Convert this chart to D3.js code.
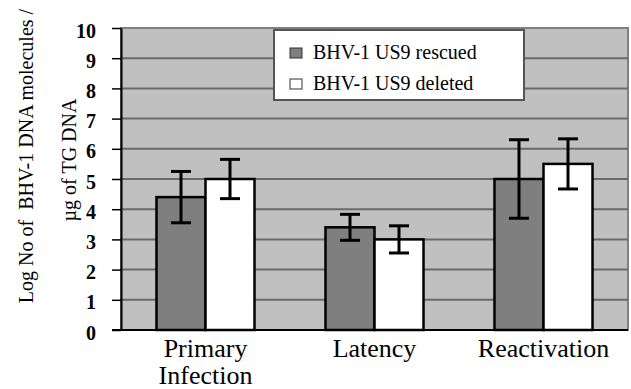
<!DOCTYPE html>
<html>
<head>
<meta charset="utf-8">
<script src="https://cdn.jsdelivr.net/npm/d3@7"></script>
<style>
  body { margin: 0; background: #fff; }
  svg text { font-family: "Liberation Serif", "DejaVu Serif", "Times New Roman", serif; white-space: pre; }
</style>
</head>
<body>
<div id="chart"></div>
<script>
const categories = ["Primary Infection", "Latency", "Reactivation"];
const series = ["BHV-1 US9 rescued", "BHV-1 US9 deleted"];
const rescued = [4.4, 3.4, 5.0];
const rescuedErr = [0.85, 0.43, 1.3];
const deleted = [5.0, 3.0, 5.5];
const deletedErr = [0.65, 0.45, 0.83];
const yTicks = [0, 1, 2, 3, 4, 5, 6, 7, 8, 9, 10];

const W = 631, H = 389;
const margin = { top: 28, right: 3, bottom: 59, left: 121 };
const width = W - margin.left - margin.right;
const height = H - margin.top - margin.bottom;

const svg = d3.select("#chart")
    .append("svg")
    .attr("width", W)
    .attr("height", H);

const g = svg.append("g")
    .attr("transform", `translate(${margin.left},${margin.top})`);

const x = d3.scaleBand()
    .domain(categories)
    .range([0, width])
    .paddingInner(0.42)
    .paddingOuter(0.21);

const x1 = d3.scaleBand()
    .domain(series)
    .range([0, x.bandwidth()]);

const y = d3.scaleLinear()
    .domain([0, 10])
    .range([height, 0]);

const colors = { "BHV-1 US9 rescued": "#7f7f7f", "BHV-1 US9 deleted": "#ffffff" };

// plot area
g.append("rect")
    .attr("width", width)
    .attr("height", height)
    .attr("fill", "#c0c0c0")
    .attr("stroke", "#808080")
    .attr("stroke-width", 2);

// gridlines
g.append("g")
    .selectAll("line")
    .data(yTicks.slice(1, -1))
    .enter()
    .append("line")
    .attr("x1", 0)
    .attr("x2", width)
    .attr("y1", d => y(d))
    .attr("y2", d => y(d))
    .attr("stroke", "#6a6a6a")
    .attr("stroke-width", 2);

// bars + error bars
const rows = [];
categories.forEach((c, i) => {
    rows.push({ cat: c, s: series[0], v: rescued[i], e: rescuedErr[i] });
    rows.push({ cat: c, s: series[1], v: deleted[i], e: deletedErr[i] });
});

g.selectAll(".bar")
    .data(rows)
    .enter()
    .append("rect")
    .attr("class", "bar")
    .attr("x", d => x(d.cat) + x1(d.s))
    .attr("y", d => y(d.v))
    .attr("width", x1.bandwidth())
    .attr("height", d => y(0) - y(d.v))
    .attr("fill", d => colors[d.s])
    .attr("stroke", "#000")
    .attr("stroke-width", 2.5);

const err = g.selectAll(".err")
    .data(rows)
    .enter()
    .append("g")
    .attr("class", "err")
    .attr("stroke", "#000")
    .attr("stroke-width", 3);

const cx = d => x(d.cat) + x1(d.s) + x1.bandwidth() / 2;
err.append("line")
    .attr("x1", cx).attr("x2", cx)
    .attr("y1", d => y(d.v + d.e)).attr("y2", d => y(d.v - d.e));
err.append("line")
    .attr("x1", d => cx(d) - 10).attr("x2", d => cx(d) + 10)
    .attr("y1", d => y(d.v + d.e)).attr("y2", d => y(d.v + d.e));
err.append("line")
    .attr("x1", d => cx(d) - 10).attr("x2", d => cx(d) + 10)
    .attr("y1", d => y(d.v - d.e)).attr("y2", d => y(d.v - d.e));

// y axis
const yAxis = g.append("g")
    .call(d3.axisLeft(y).tickValues(yTicks).tickSize(9).tickSizeOuter(0).tickPadding(16));
yAxis.attr("font-family", null);
yAxis.select(".domain").attr("stroke", "#000").attr("stroke-width", 2);
yAxis.selectAll(".tick line").attr("stroke", "#000").attr("stroke-width", 1.5);
yAxis.selectAll(".tick text")
    .attr("fill", "#000")
    .attr("dy", "0.45em")
    .style("font-size", "20px")
    .style("font-weight", "bold");

// x axis line
g.append("line")
    .attr("x1", -9).attr("x2", width)
    .attr("y1", height).attr("y2", height)
    .attr("stroke", "#000").attr("stroke-width", 2);

// x labels
const xl = g.append("g")
    .selectAll("text")
    .data(categories)
    .enter()
    .append("text")
    .attr("text-anchor", "middle")
    .attr("font-size", 26)
    .attr("fill", "#000")
    .attr("transform", d => `translate(${x(d) + x.bandwidth() / 2},${height + 27})`);
xl.each(function (d) {
    const parts = d === "Primary Infection" ? ["Primary", "Infection"] : [d];
    d3.select(this).selectAll("tspan")
        .data(parts)
        .enter()
        .append("tspan")
        .attr("x", 0)
        .attr("dy", (p, i) => i === 0 ? 0 : 27)
        .text(p => p);
});

// y title
const yt = svg.append("g").attr("transform", "translate(0,156) rotate(-90)");
yt.append("text").attr("x", 0).attr("y", 33)
    .attr("text-anchor", "middle").attr("font-size", 20).attr("fill", "#000")
    .text("Log No of  BHV-1 DNA molecules /");
yt.append("text").attr("x", -4).attr("y", 76)
    .attr("text-anchor", "middle").attr("font-size", 20).attr("fill", "#000")
    .text("µg of TG DNA");

// legend
const leg = svg.append("g").attr("transform", "translate(274,30)");
leg.append("rect")
    .attr("width", 250).attr("height", 70)
    .attr("fill", "#fff").attr("stroke", "#555").attr("stroke-width", 2);
const li = leg.selectAll(".li")
    .data(series)
    .enter()
    .append("g")
    .attr("transform", (d, i) => `translate(16,${18 + i * 31})`);
li.append("rect")
    .attr("width", 12).attr("height", 10)
    .attr("fill", d => colors[d])
    .attr("stroke", "#333").attr("stroke-width", 1);
li.append("text")
    .attr("x", 23).attr("y", 11)
    .attr("font-size", 20).attr("fill", "#000")
    .text(d => d);
</script>
</body>
</html>
